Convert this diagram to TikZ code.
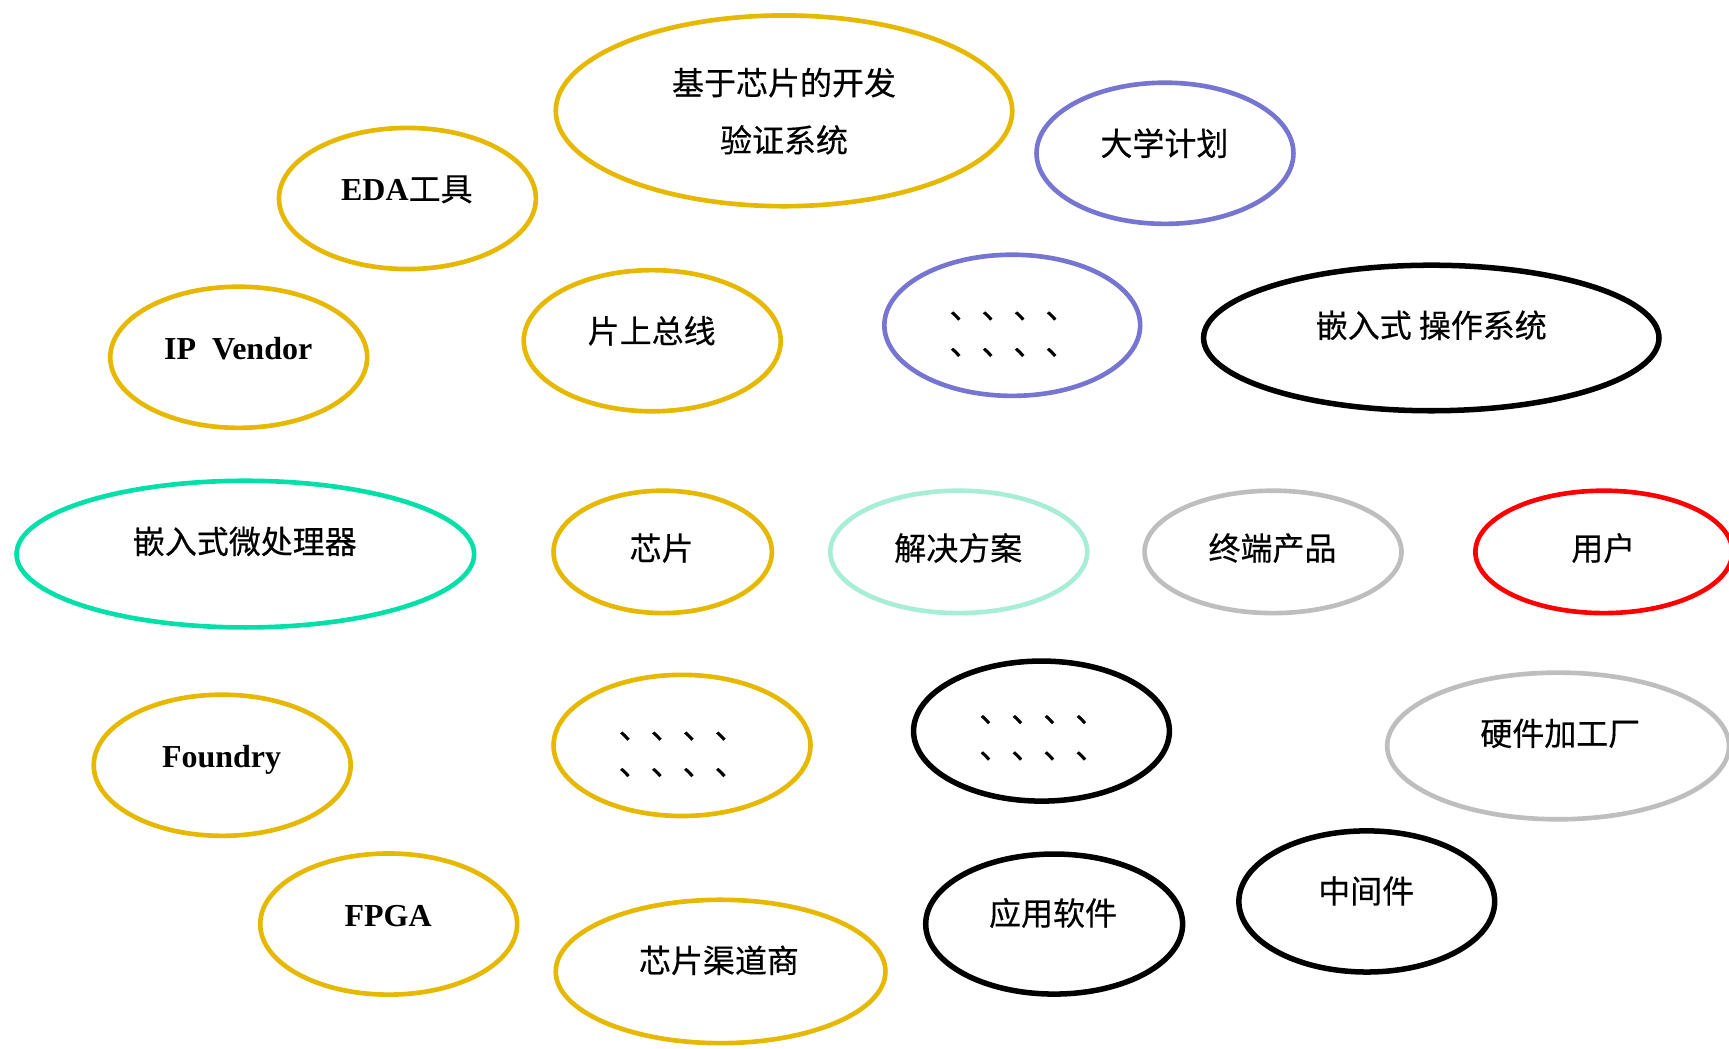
\documentclass[tikz,border=0pt]{standalone}
\usepackage{fontspec}
\setmainfont{Liberation Serif}
\newfontfamily\cjk[FakeBold=0.4]{Noto Sans CJK SC}
\usetikzlibrary{shapes.geometric}
\newcommand\myzh[1]{{\cjk #1}}
\definecolor{cgold}{RGB}{230,184,0}
\definecolor{cpurple}{RGB}{118,118,210}
\definecolor{cteal}{RGB}{0,224,168}
\definecolor{cmint}{RGB}{168,238,214}
\definecolor{cgray}{RGB}{190,190,190}
\definecolor{cred}{RGB}{255,0,0}
\tikzset{
  ell/.style={draw=#1, ellipse, line width=4.2pt, inner sep=0pt},
  blk/.style={draw=black, ellipse, line width=5pt, inner sep=0pt},
  lbl/.style={font=\fontsize{29}{34}\selectfont, inner sep=0pt, anchor=base, text=black},
  lblbf/.style={lbl, font=\fontsize{29}{34}\selectfont\bfseries},
  dots/.style={lbl, font=\fontsize{29}{33}\selectfont\cjk, align=center},
  two/.style={lbl, font=\fontsize{29}{52}\selectfont\cjk, align=center}
}
\begin{document}
\begin{tikzpicture}[x=1pt,y=-1pt]
\useasboundingbox (0,0) rectangle (1568,951);
\clip (0,0) rectangle (1568,951);
\fill[white] (0,0) rectangle (1568,951);
% ellipses
\node[ell=cgold, minimum width=414pt, minimum height=173pt] (e1) at (711,100.5) {};
\node[ell=cpurple, minimum width=233pt, minimum height=128pt] (e2) at (1056.5,139) {};
\node[ell=cgold, minimum width=233pt, minimum height=128pt] (e3) at (369.5,180) {};
\node[ell=cgold, minimum width=233pt, minimum height=128pt] (e4) at (216.5,324) {};
\node[ell=cgold, minimum width=233pt, minimum height=128pt] (e5) at (591.5,309) {};
\node[ell=cpurple, minimum width=232pt, minimum height=128pt] (e6) at (918,295) {};
\node[blk, minimum width=413pt, minimum height=132pt] (e7) at (1298,306.5) {};
\node[ell=cteal, minimum width=415pt, minimum height=133pt] (e8) at (222.5,502.5) {};
\node[ell=cgold, minimum width=198pt, minimum height=111pt] (e9) at (601,500.5) {};
\node[ell=cmint, minimum width=233pt, minimum height=111pt] (e10) at (869.5,500.5) {};
\node[ell=cgray, minimum width=233pt, minimum height=111pt] (e11) at (1154.5,500.5) {};
\node[ell=cred, minimum width=233pt, minimum height=111pt] (e12) at (1454.5,500.5) {};
\node[ell=cgold, minimum width=233pt, minimum height=128pt] (e13) at (201.5,694) {};
\node[ell=cgold, minimum width=233pt, minimum height=128pt] (e14) at (618.5,676) {};
\node[blk, minimum width=232pt, minimum height=127pt] (e15) at (944.5,663) {};
\node[ell=cgray, minimum width=310pt, minimum height=133pt] (e16) at (1413,676.5) {};
\node[ell=cgold, minimum width=233pt, minimum height=128pt] (e17) at (352.5,838) {};
\node[ell=cgold, minimum width=299pt, minimum height=130pt] (e18) at (653.5,881) {};
\node[blk, minimum width=233pt, minimum height=127pt] (e19) at (956,838) {};
\node[blk, minimum width=232pt, minimum height=128pt] (e20) at (1239.5,817.5) {};
% labels
\node[two] (t1) at (711,138) {基于芯片的开发\\验证系统};
\node[lbl] (t2) at (1056,141) {\myzh{大学计划}};
\node[lbl] (t3) at (369,182) {\textbf{EDA}\myzh{工具}};
\node[lblbf] (t4) at (216,326) {IP~~Vendor};
\node[lbl] (t5) at (591,311) {\myzh{片上总线}};
\node[dots] (t6) at (919,322) {、、、、\\、、、、};
\node[lbl] (t7) at (1298,306) {\myzh{嵌入式 操作系统}};
\node[lbl] (t8) at (222,502) {\myzh{嵌入式微处理器}};
\node[lbl] (t9) at (600,508) {\myzh{芯片}};
\node[lbl] (t10) at (869,508) {\myzh{解决方案}};
\node[lbl] (t11) at (1154,508) {\myzh{终端产品}};
\node[lbl] (t12) at (1454,508) {\myzh{用户}};
\node[lblbf] (t13) at (201,696) {Foundry};
\node[dots] (t14) at (619,703) {、、、、\\、、、、};
\node[dots] (t15) at (946,688) {、、、、\\、、、、};
\node[lbl] (t16) at (1415,676) {\myzh{硬件加工厂}};
\node[lblbf] (t17) at (352,840) {FPGA};
\node[lbl] (t18) at (652,882) {\myzh{芯片渠道商}};
\node[lbl] (t19) at (955,839) {\myzh{应用软件}};
\node[lbl] (t20) at (1239,819) {\myzh{中间件}};
\end{tikzpicture}
\end{document}
